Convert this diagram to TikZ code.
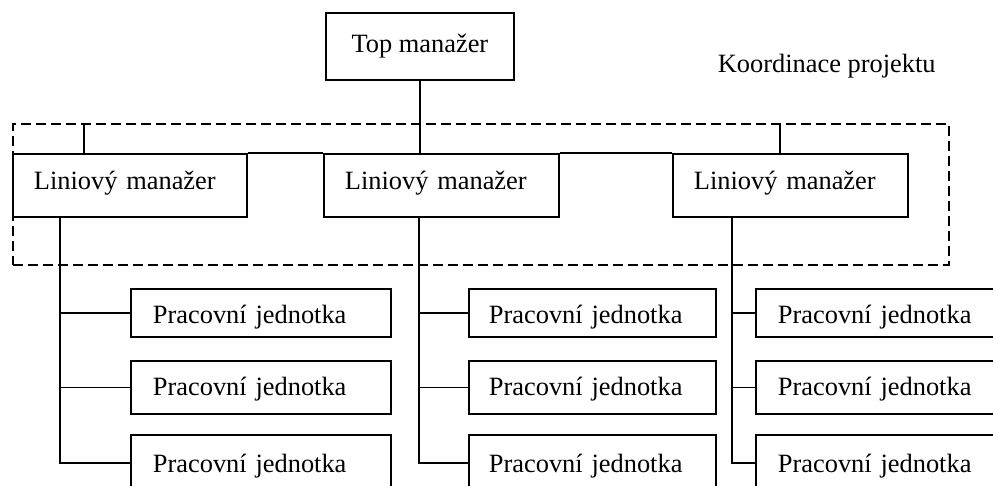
\documentclass[tikz,border=0pt]{standalone}
\usepackage{fontspec}
\setmainfont{Liberation Serif}
\begin{document}
\begin{tikzpicture}[x=1pt,y=-1pt,line width=1.8pt,
  txt/.style={font=\fontsize{26.4}{30}\selectfont},
  box/.style={draw,txt,anchor=north west,inner ysep=0pt,align=left},
  mgr/.style={box,inner xsep=21pt,minimum height=63pt,text height=15pt,text depth=6pt},
  cL/.style={text width=216pt,inner xsep=22pt},
  cM/.style={text width=207pt,inner xsep=20pt},
  cR/.style={text width=206pt,inner xsep=22pt},
  r1/.style={minimum height=48pt,text height=24pt,text depth=2pt},
  r2/.style={minimum height=53pt,text height=19pt,text depth=2pt},
  r3/.style={minimum height=56pt,text height=22pt,text depth=2pt},
  frame/.style={draw,dash pattern=on 10pt off 5pt,anchor=north west,inner sep=0pt}]
\useasboundingbox (0,0) rectangle (993,485);
\clip (0,0) rectangle (993,485);
% dashed coordination frame
\node[frame,minimum width=936pt,minimum height=141pt] (kframe) at (12,123) {};
\node[txt,anchor=base west,inner sep=0pt] (kp) at (717,72) {Koordinace projektu};
% top manager
\node[draw,txt,anchor=north west,inner sep=0pt,minimum width=188pt,minimum height=67pt] (top) at (325,12) {Top manažer};
% line managers
\node[mgr,text width=192pt] (lm) at (12,153) {Liniový manažer};
\node[mgr,text width=193pt] (mm) at (323,153) {Liniový manažer};
\node[mgr,text width=193pt] (rm) at (672,153) {Liniový manažer};
% work units
\node[box,cL,r1] (l1) at (130,288) {Pracovní jednotka};
\node[box,cL,r2] (l2) at (130,360) {Pracovní jednotka};
\node[box,cL,r3] (l3) at (130,434) {Pracovní jednotka};
\node[box,cM,r1] (m1) at (468,288) {Pracovní jednotka};
\node[box,cM,r2] (m2) at (468,360) {Pracovní jednotka};
\node[box,cM,r3] (m3) at (468,434) {Pracovní jednotka};
\node[box,cR,r1] (q1) at (755,288) {Pracovní jednotka};
\node[box,cR,r2] (q2) at (755,360) {Pracovní jednotka};
\node[box,cR,r3] (q3) at (755,434) {Pracovní jednotka};
% top connections
\draw (top.south) -- (top.south |- mm.north);
\draw (lm.north east) -- (mm.north west);
\draw (mm.north east) -- (rm.north west);
\coordinate (s1) at (84,123);
\coordinate (s2) at (780,123);
\draw (s1) -- (s1 |- lm.north);
\draw (s2) -- (s2 |- rm.north);
% branch lines
\path (lm.south west) ++(48,0) coordinate (lv);
\path (mm.south west) ++(96,0) coordinate (mv);
\path (rm.south west) ++(60,0) coordinate (rv);
\draw (lv) -- (lv |- l3.west) -- (l3.west);
\draw (lv |- l1.west) -- (l1.west);
\draw (lv |- l2.west) -- (l2.west);
\draw (mv) -- (mv |- m3.west) -- (m3.west);
\draw (mv |- m1.west) -- (m1.west);
\draw (mv |- m2.west) -- (m2.west);
\draw (rv) -- (rv |- q3.west) -- (q3.west);
\draw (rv |- q1.west) -- (q1.west);
\draw (rv |- q2.west) -- (q2.west);
\end{tikzpicture}
\end{document}
